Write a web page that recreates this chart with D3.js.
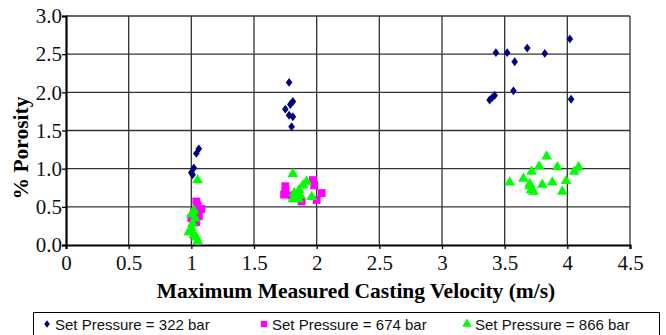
<!DOCTYPE html>
<html>
<head>
<meta charset="utf-8">
<script src="https://cdn.jsdelivr.net/npm/d3@7"></script>
<style>
  body { margin: 0; background: #fff; }
  svg { display: block; }
</style>
</head>
<body>
<div id="chart"></div>
<script>
// values: [velocity m/s, % porosity]
var p322 = [
  [1.06, 1.26], [1.04, 1.20], [1.02, 1.01], [1.00, 0.95], [1.01, 0.92],
  [1.78, 2.13], [1.81, 1.88], [1.79, 1.84], [1.75, 1.78], [1.78, 1.70], [1.81, 1.68], [1.80, 1.55],
  [3.43, 2.52], [3.52, 2.52], [3.68, 2.58], [3.58, 2.40], [3.82, 2.51], [4.02, 2.70],
  [3.38, 1.90], [3.40, 1.93], [3.42, 1.96], [3.57, 2.02], [4.03, 1.91]
]
var p674 = [
  [1.04, 0.57], [1.05, 0.52], [1.08, 0.47], [1.02, 0.43], [1.06, 0.38], [1.00, 0.35], [1.04, 0.30],
  [1.75, 0.77], [1.75, 0.68], [1.74, 0.66], [1.97, 0.85], [1.98, 0.78], [2.04, 0.68],
  [2.00, 0.59], [1.88, 0.57], [1.80, 0.65]
]
var p866 = [
  [1.05, 0.85], [1.02, 0.45], [1.00, 0.40], [1.03, 0.35], [1.01, 0.28], [1.00, 0.22],
  [0.98, 0.17], [1.02, 0.13], [1.04, 0.10], [1.05, 0.05],
  [1.81, 0.93], [1.92, 0.83], [1.89, 0.78], [1.86, 0.72], [1.82, 0.68], [1.81, 0.60],
  [1.855, 0.60], [1.96, 0.63], [1.87, 0.65],
  [3.835, 1.16], [3.775, 1.03], [3.92, 1.02], [4.09, 1.02], [4.055, 0.96], [3.715, 0.96],
  [3.65, 0.87], [3.54, 0.82], [3.99, 0.84], [3.88, 0.82], [3.80, 0.79], [3.70, 0.77],
  [3.71, 0.72], [3.73, 0.70], [3.96, 0.70], [3.70, 0.80]
]
var x_ticks = [0, 0.5, 1, 1.5, 2, 2.5, 3, 3.5, 4, 4.5]
var y_ticks = [0, 0.5, 1, 1.5, 2, 2.5, 3]
var legend_labels = ["Set Pressure = 322 bar", "Set Pressure = 674 bar", "Set Pressure = 866 bar"]

var width = 666
var height = 335
var m_left = 66, m_right = 630, m_top = 16, m_bottom = 245
var serif = "'Liberation Serif', 'Times New Roman', serif"

var svg = d3.select("#chart").append("svg")
  .attr("width", width)
  .attr("height", height)

var x = d3.scaleLinear().domain([0, 4.5]).range([m_left, m_right])
var y = d3.scaleLinear().domain([0, 3]).range([m_bottom, m_top])

// grid
svg.append("g").selectAll("line").data(x_ticks.slice(1)).join("line")
  .attr("x1", d => x(d)).attr("x2", d => x(d))
  .attr("y1", m_top).attr("y2", m_bottom)
  .attr("stroke", "#333").attr("stroke-width", 1.3)
svg.append("g").selectAll("line").data(y_ticks.slice(1)).join("line")
  .attr("x1", m_left).attr("x2", m_right)
  .attr("y1", d => y(d)).attr("y2", d => y(d))
  .attr("stroke", "#333").attr("stroke-width", 1.3)

// axes
var x_axis = d3.axisBottom(x).tickValues(x_ticks).tickSize(4).tickFormat(d3.format(""))
var y_axis = d3.axisLeft(y).tickValues(y_ticks).tickSize(4).tickFormat(d3.format(".1f"))

var gx = svg.append("g").attr("transform", "translate(0," + m_bottom + ")").call(x_axis)
var gy = svg.append("g").attr("transform", "translate(" + m_left + ",0)").call(y_axis)
;[gx, gy].forEach(g => {
  g.attr("font-family", serif).attr("font-size", 21)
  g.select(".domain").attr("stroke", "#000").attr("stroke-width", 2.2)
  g.selectAll(".tick line").attr("stroke", "#000").attr("stroke-width", 1.3)
  g.selectAll(".tick text")
    .attr("fill", "#111")
    .style("font-family", serif)
    .style("font-size", "21px")
})
gx.selectAll(".tick text").attr("dy", "0.85em")
gy.selectAll(".tick text").attr("x", -4)

// markers
function addPoints(data, shape, color, sz) {
  svg.append("g").selectAll("path").data(data).join("path")
    .attr("transform", d => "translate(" + x(d[0]) + "," + y(d[1]) + ")" + (shape == "diamond" ? " scale(0.75,1)" : ""))
    .attr("d", d3.symbol().type(shape == "diamond" ? d3.symbolDiamond2 : shape == "square" ? d3.symbolSquare : d3.symbolTriangle).size(sz))
    .attr("fill", color)
}
addPoints(p674, "square", "#ff00ff", 62)
addPoints(p866, "triangle", "#00ff00", 50)
addPoints(p322, "diamond", "#000080", 50)

// titles
svg.append("text")
  .attr("x", (m_left + m_right) / 2 + 8)
  .attr("y", 298)
  .attr("text-anchor", "middle")
  .style("font-family", serif)
  .style("font-weight", "bold")
  .style("font-size", "21.5px")
  .text("Maximum Measured Casting Velocity (m/s)")

svg.append("text")
  .attr("transform", "translate(28," + 148 + ") rotate(-90)")
  .attr("text-anchor", "middle")
  .style("font-family", serif)
  .style("font-weight", "bold")
  .style("font-size", "21.5px")
  .text("% Porosity")

// legend
var legend = svg.append("g")
legend.append("rect")
  .attr("x", 33.5).attr("y", 312.5)
  .attr("width", 626).attr("height", 24)
  .attr("fill", "none").attr("stroke", "#000").attr("stroke-width", 1)

var legend_x = [47, 264, 467]
var legend_shapes = [d3.symbolDiamond2, d3.symbolSquare, d3.symbolTriangle]
var legend_colors = ["#000080", "#ff00ff", "#00ff00"]
legend_labels.forEach((lab, i) => {
  legend.append("path")
    .attr("transform", "translate(" + legend_x[i] + ",324)" + (i == 0 ? " scale(0.75,1)" : ""))
    .attr("d", d3.symbol().type(legend_shapes[i]).size(i == 0 ? 36 : 40))
    .attr("fill", legend_colors[i])
  legend.append("text")
    .attr("x", legend_x[i] + 8)
    .attr("y", 329.5)
    .style("font-family", "'Liberation Sans', Arial, sans-serif")
    .style("font-size", "15px")
    .attr("fill", "#111")
    .text(lab)
})
</script>
</body>
</html>
